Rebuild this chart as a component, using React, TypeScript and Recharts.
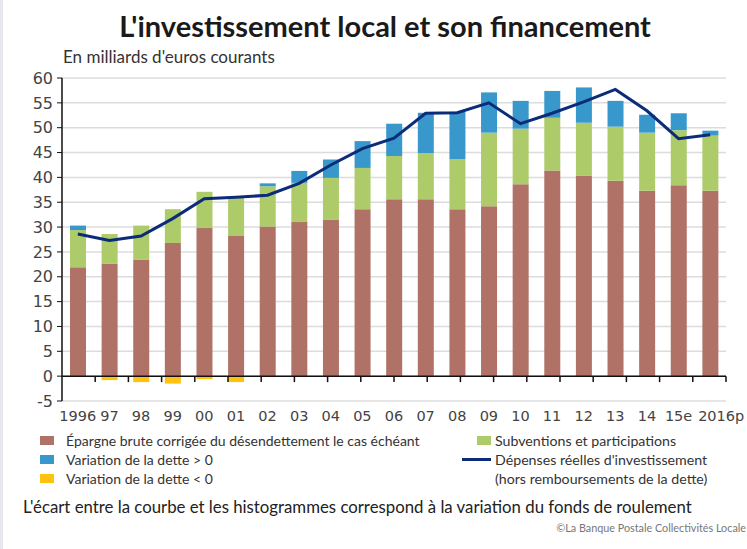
import { ComposedChart, Bar, Line, XAxis, YAxis, CartesianGrid, ReferenceLine } from 'recharts';

const years = ['1996', '97', '98', '99', '00', '01', '02', '03', '04', '05', '06', '07', '08', '09', '10', '11', '12', '13', '14', '15e', '2016p'];
const epargne = [21.9, 22.6, 23.5, 26.8, 29.8, 28.2, 30.1, 31.0, 31.5, 33.6, 35.6, 35.6, 33.6, 34.2, 38.6, 41.4, 40.4, 39.3, 37.3, 38.4, 37.3];
const subventions = [7.5, 6.0, 6.8, 6.8, 7.3, 7.8, 8.1, 7.9, 8.4, 8.3, 8.7, 9.3, 10.1, 14.8, 11.2, 10.6, 10.6, 10.9, 11.7, 11.1, 11.1];
const detteHausse = [0.9, 0, 0, 0, 0, 0, 0.6, 2.4, 3.7, 5.4, 6.5, 8.1, 9.5, 8.1, 5.6, 5.4, 7.1, 5.2, 3.6, 3.4, 1.0];
const detteBaisse = [0, -0.8, -1.2, -1.5, -0.6, -1.2, 0, 0, 0, 0, 0, 0, 0, 0, 0, 0, 0, 0, 0, 0, 0];
const depenses = [28.6, 27.3, 28.2, 31.7, 35.7, 36.0, 36.4, 38.8, 42.5, 45.8, 47.9, 52.9, 53.0, 55.0, 50.8, 52.9, 55.2, 57.7, 53.4, 47.8, 48.6];
const yTicks = [-5, 0, 5, 10, 15, 20, 25, 30, 35, 40, 45, 50, 55, 60];

const COLORS = {
  epargne: '#b07267',
  subventions: '#adcb69',
  hausse: '#3898cb',
  baisse: '#ffc20e',
  line: '#0c2c7a',
  grid: '#dcdcdc',
};

const data = years.map((year, i) => ({
  year,
  epargne: epargne[i],
  subventions: subventions[i],
  hausse: detteHausse[i],
  baisse: detteBaisse[i],
  depenses: depenses[i],
}));

// limites entre catégories pour les petites graduations sur l'axe 0
const boundaries = years.map((_, i) => i + 1);

const FONT = 'Lato, "Noto Sans", sans-serif';
const TICK_FONT = '"DejaVu Sans", sans-serif';

function YearTick(props: any) {
  const { x, y, payload, index } = props;
  // le dernier libellé déborde vers la droite dans l'original
  const dx = index === years.length - 1 ? 11 : 0;
  return (
    <text x={x + dx} y={y} dy="0.71em" textAnchor="middle" fill="#444" fontSize={14.5} fontFamily={TICK_FONT}>
      {payload.value}
    </text>
  );
}

function Swatch({ color }: { color: string }) {
  return <span style={{ display: 'inline-block', width: 14, height: 9, background: color, marginRight: 12 }} />;
}

export default function App() {
  return (
    <div style={{ position: 'absolute', left: 0, top: 0, width: 747, height: 549, background: '#fff', overflow: 'hidden', fontFamily: FONT, color: '#222' }}>
      <div style={{ position: 'absolute', left: 0, top: 0, width: 3, height: 549, background: '#e6e7ef' }} />
      <ComposedChart
        width={747}
        height={549}
        data={data}
        stackOffset="sign"
        margin={{ top: 78, right: 21, bottom: 118, left: 22 }}
        style={{ position: 'absolute', left: 0, top: 0 }}
      >
        <CartesianGrid vertical={false} stroke={COLORS.grid} strokeWidth={1.5} />
        <XAxis
          dataKey="year"
          axisLine={false}
          tickLine={false}
          interval={0}
          height={30}
          tickMargin={4}
          tick={<YearTick />}
        />
        <XAxis xAxisId="n" type="number" domain={[0, years.length]} hide />
        <YAxis
          domain={[-5, 60]}
          ticks={yTicks}
          interval={0}
          width={40}
          axisLine={{ stroke: '#111', strokeWidth: 1.5 }}
          tickLine={{ stroke: '#111' }}
          tickSize={5}
          tickMargin={4}
          tick={{ fill: '#444', fontSize: 16, fontFamily: TICK_FONT }}
        />
        <Bar dataKey="epargne" stackId="a" fill={COLORS.epargne} barSize={16} isAnimationActive={false} />
        <Bar dataKey="subventions" stackId="a" fill={COLORS.subventions} barSize={16} isAnimationActive={false} />
        <Bar dataKey="hausse" stackId="a" fill={COLORS.hausse} barSize={16} isAnimationActive={false} />
        <Bar dataKey="baisse" stackId="a" fill={COLORS.baisse} barSize={16} isAnimationActive={false} />
        <ReferenceLine y={0} stroke="#111" strokeWidth={1.5} />
        {boundaries.map((b) => (
          <ReferenceLine
            key={b}
            xAxisId="n"
            segment={[{ x: b, y: 0 }, { x: b, y: -1.2 }]}
            stroke="#111"
            strokeWidth={1.5}
          />
        ))}
        <Line
          dataKey="depenses"
          type="linear"
          stroke={COLORS.line}
          strokeWidth={3}
          dot={false}
          isAnimationActive={false}
        />
      </ComposedChart>

      <div style={{ position: 'absolute', left: 0, top: 8, width: 770, textAlign: 'center', fontSize: 29, fontWeight: 700, color: '#1a1a1a' }}>
        L'investissement local et son financement
      </div>
      <div style={{ position: 'absolute', left: 63, top: 46, fontSize: 17, color: '#333' }}>En milliards d'euros courants</div>

      <div style={{ position: 'absolute', left: 40, top: 431, fontSize: 14, color: '#333', lineHeight: '19px' }}>
        <div style={{ display: 'flex', alignItems: 'center' }}><Swatch color={COLORS.epargne} />Épargne brute corrigée du désendettement le cas échéant</div>
        <div style={{ display: 'flex', alignItems: 'center' }}><Swatch color={COLORS.hausse} />Variation de la dette &gt; 0</div>
        <div style={{ display: 'flex', alignItems: 'center' }}><Swatch color={COLORS.baisse} />Variation de la dette &lt; 0</div>
      </div>
      <div style={{ position: 'absolute', left: 462, top: 431, fontSize: 14.2, color: '#333', lineHeight: '19px' }}>
        <div style={{ display: 'flex', alignItems: 'center' }}>
          <span style={{ display: 'inline-block', width: 14, height: 9, background: COLORS.subventions, marginLeft: 15, marginRight: 4 }} />
          Subventions et participations
        </div>
        <div style={{ display: 'flex', alignItems: 'center' }}>
          <span style={{ display: 'inline-block', width: 29, height: 3, background: COLORS.line, marginRight: 4 }} />
          Dépenses réelles d'investissement
        </div>
        <div style={{ paddingLeft: 33 }}>(hors remboursements de la dette)</div>
      </div>

      <div style={{ position: 'absolute', left: 23, top: 496, fontSize: 16.8, color: '#222', whiteSpace: 'nowrap' }}>
        L'écart entre la courbe et les histogrammes correspond à la variation du fonds de roulement
      </div>
      <div style={{ position: 'absolute', right: 1, top: 521, fontSize: 10.8, color: '#777', whiteSpace: 'nowrap' }}>
        ©La Banque Postale Collectivités Locale
      </div>
    </div>
  );
}
